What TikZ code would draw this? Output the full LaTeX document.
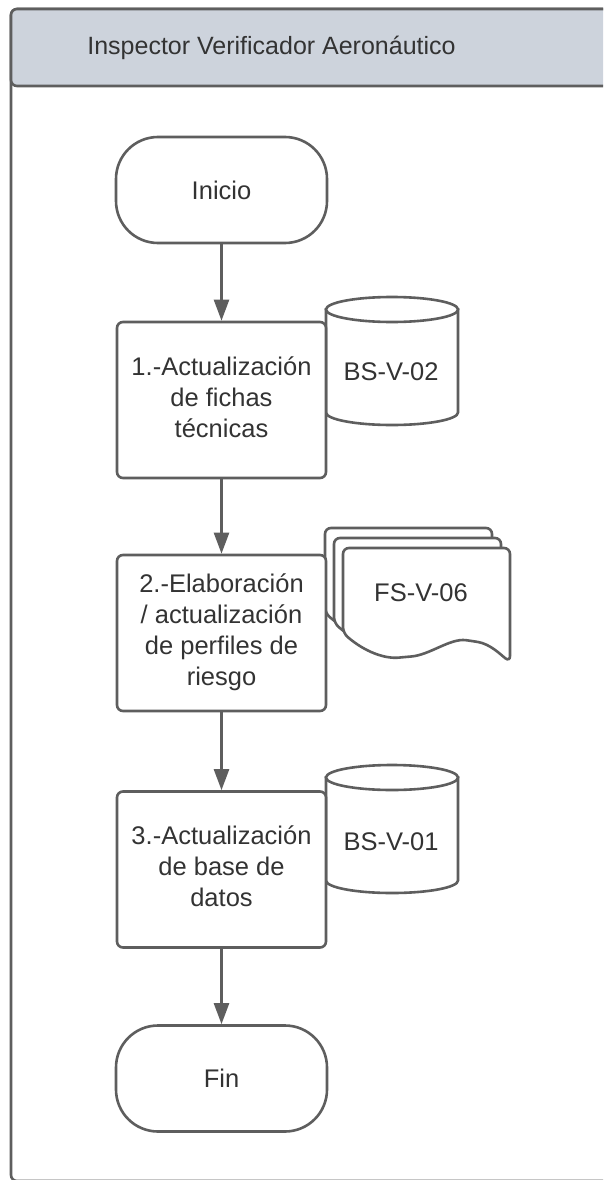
\documentclass[tikz,border=0pt]{standalone}
\usepackage{fontspec}
\setmainfont{Liberation Sans}
\usetikzlibrary{arrows.meta}
\definecolor{hdr}{HTML}{CDD3DC}
\definecolor{ln}{HTML}{5E5E5E}
\definecolor{tx}{HTML}{333333}
\tikzset{
  shp/.style={draw=ln, line width=2.6pt, fill=white},
  lbl/.style={text=tx, font=\fontsize{25.5}{31}\selectfont, align=center},
  term/.style={shp, lbl, rounded corners=42pt, minimum width=211pt, minimum height=106pt, inner sep=0pt},
  proc/.style={shp, lbl, rounded corners=6pt, minimum width=209pt, minimum height=156pt, inner sep=0pt},
  arr/.style={draw=ln, line width=2.4pt, -{Triangle[length=21pt,width=15pt]}},
  page/.style={shp, rounded corners=6pt},
}
\begin{document}
\begin{tikzpicture}[x=1pt,y=-1pt]
\useasboundingbox (0,0) rectangle (603,1180);
\fill[white] (0,0) rectangle (603,1180);
\begin{scope}
\clip (0,0) rectangle (603,1180);
% pool
\draw[draw=ln, line width=2.6pt, rounded corners=6pt] (11,9) rectangle (660,1181);
\draw[draw=ln, line width=2.6pt, fill=hdr, rounded corners=6pt] (11,9) rectangle (660,86);
\node[lbl, font=\fontsize{25}{31}\selectfont] (title) at (271.5,47.5) {Inspector Verificador Aeronáutico};

% cylinder 1
\draw[shp] (326,309.5) -- (326,412.5)
  .. controls (326,419.4) and (355.5,425) .. (392,425)
  .. controls (428.5,425) and (458,419.4) .. (458,412.5) -- (458,309.5) -- cycle;
\draw[shp] (392,309.5) ellipse [x radius=66pt, y radius=12.5pt];
\node[lbl] (bs2) at (391,372) {BS-V-02};

% cylinder 2
\draw[shp] (326,777.5) -- (326,880.5)
  .. controls (326,887.4) and (355.5,893) .. (392,893)
  .. controls (428.5,893) and (458,887.4) .. (458,880.5) -- (458,777.5) -- cycle;
\draw[shp] (392,777.5) ellipse [x radius=66pt, y radius=12.5pt];
\node[lbl] (bs1) at (391,842) {BS-V-01};

% document stack
\foreach \dx/\dy in {-18/-20, -9/-10, 0/0}{
\begin{scope}[shift={(\dx,\dy)}]
\draw[page] (343,633) -- (343,548) -- (510,548) -- (510,662)
  .. controls (500,654) and (490,644) .. (472,641)
  .. controls (450,638) and (430,655) .. (405,657)
  .. controls (385,659) and (365,652) .. (343,633) -- cycle;
\end{scope}
}
\node[lbl] (fs6) at (421,593) {FS-V-06};

% flow
\node[term] (inicio) at (221.5,190) {Inicio};
\node[proc] (b1) at (221.5,400) {};
\node[lbl] (b1t) at (221.5,397) {1.-Actualización\\de fichas\\técnicas};
\node[proc] (b2) at (221.5,633) {};
\node[lbl] (b2t) at (221.5,632) {2.-Elaboración\\/ actualización\\de perfiles de\\riesgo};
\node[proc] (b3) at (221.5,869.5) {};
\node[lbl] (b3t) at (221.5,866) {3.-Actualización\\de base de\\datos};
\node[term] (fin) at (221.5,1078.5) {Fin};

\draw[arr] (inicio) -- (b1);
\draw[arr] (b1) -- (b2);
\draw[arr] (b2) -- (b3);
\draw[arr] (b3) -- (fin);
\end{scope}
\end{tikzpicture}
\end{document}
